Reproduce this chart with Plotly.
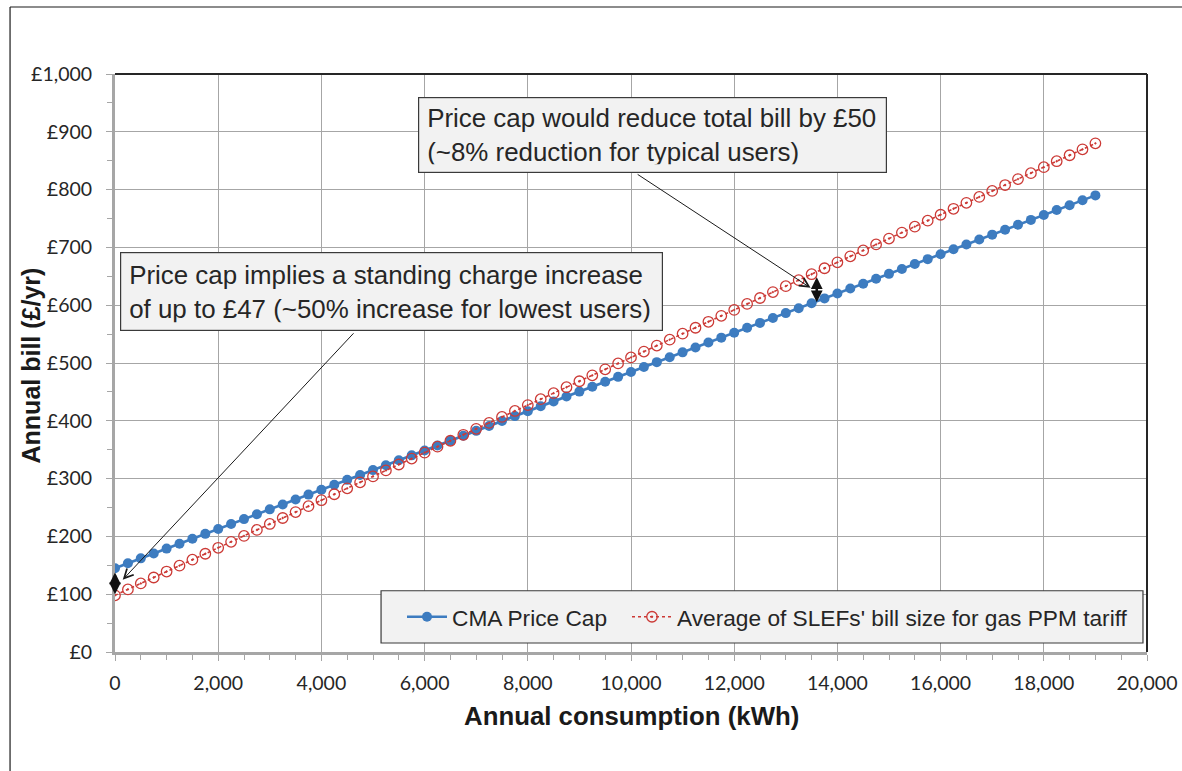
import plotly.graph_objects as go

# ---------------- data ----------------
consumption_kwh = [
    0, 250, 500, 750, 1000, 1250, 1500, 1750, 2000, 2250, 2500, 2750, 3000, 3250, 3500, 3750,
    4000, 4250, 4500, 4750, 5000, 5250, 5500, 5750, 6000, 6250, 6500, 6750, 7000, 7250, 7500, 7750,
    8000, 8250, 8500, 8750, 9000, 9250, 9500, 9750, 10000, 10250, 10500, 10750, 11000, 11250, 11500, 11750,
    12000, 12250, 12500, 12750, 13000, 13250, 13500, 13750, 14000, 14250, 14500, 14750, 15000, 15250, 15500, 15750,
    16000, 16250, 16500, 16750, 17000, 17250, 17500, 17750, 18000, 18250, 18500, 18750, 19000,
]

cma_price_cap = [
    145.0, 153.5, 162.0, 170.5, 178.9, 187.4, 195.9, 204.4, 212.9, 221.4, 229.9, 238.4, 246.8, 255.3, 263.8, 272.3,
    280.8, 289.3, 297.8, 306.3, 314.7, 323.2, 331.7, 340.2, 348.7, 357.2, 365.7, 374.1, 382.6, 391.1, 399.6, 408.1,
    416.6, 425.1, 433.6, 442.0, 450.5, 459.0, 467.5, 476.0, 484.5, 493.0, 501.5, 509.9, 518.4, 526.9, 535.4, 543.9,
    552.4, 560.9, 569.4, 577.8, 586.3, 594.8, 603.3, 611.8, 620.3, 628.8, 637.2, 645.7, 654.2, 662.7, 671.2, 679.7,
    688.2, 696.7, 705.1, 713.6, 722.1, 730.6, 739.1, 747.6, 756.1, 764.6, 773.0, 781.5, 790.0,
]

slef_avg_bill = [
    98.0, 108.3, 118.6, 128.9, 139.2, 149.4, 159.7, 170.0, 180.3, 190.6, 200.9, 211.2, 221.5, 231.8, 242.0, 252.3,
    262.6, 272.9, 283.2, 293.5, 303.8, 314.1, 324.4, 334.6, 344.9, 355.2, 365.5, 375.8, 386.1, 396.4, 406.7, 417.0,
    427.2, 437.5, 447.8, 458.1, 468.4, 478.7, 489.0, 499.3, 509.6, 519.8, 530.1, 540.4, 550.7, 561.0, 571.3, 581.6,
    591.9, 602.2, 612.5, 622.7, 633.0, 643.3, 653.6, 663.9, 674.2, 684.5, 694.8, 705.1, 715.3, 725.6, 735.9, 746.2,
    756.5, 766.8, 777.1, 787.4, 797.7, 807.9, 818.2, 828.5, 838.8, 849.1, 859.4, 869.7, 880.0,
]

series_names = ["CMA Price Cap", "Average of SLEFs' bill size for gas PPM tariff"]

x_title = "Annual consumption (kWh)"
y_title = "Annual bill (£/yr)"

callout_top = "Price cap would reduce total bill by £50<br>(~8% reduction for typical users)"
callout_left = "Price cap implies a standing charge increase<br>of up to £47 (~50% increase for lowest users)"

# ---------------- styles ----------------
BLUE = "#3d7cc0"
RED = "#cc3a36"
GRID = "#a6a6a6"
TEXT = "#262626"
BOXFILL = "#f2f2f2"
TICKFONT = dict(family="Lato, Carlito, Calibri, sans-serif", size=19.5, color=TEXT)
TITLEFONT = dict(family="Liberation Sans, Arial, sans-serif", size=25.8, color="#1a1a1a")
NOTEFONT = dict(family="Liberation Sans, Arial, sans-serif", size=25.9, color=TEXT)

fig = go.Figure()

fig.add_trace(go.Scatter(
    x=consumption_kwh, y=cma_price_cap, name=series_names[0],
    mode="lines+markers",
    line=dict(color=BLUE, width=2.6),
    marker=dict(color=BLUE, size=10, symbol="circle"),
    legendwidth=170,
))
fig.add_trace(go.Scatter(
    x=consumption_kwh, y=slef_avg_bill, name=series_names[1],
    mode="lines+markers",
    line=dict(color=RED, width=1.6, dash="dot"),
    marker=dict(color=RED, size=10.5, symbol="circle-open-dot", line=dict(color=RED, width=1.3)),
))

# ---------------- annotations ----------------
annotations = [
    # axis titles
    dict(x=0.5, y=-0.1107, xref="paper", yref="paper", xanchor="center", yanchor="middle",
         text="<b>" + x_title + "</b>", showarrow=False, font=TITLEFONT),
    dict(x=-0.0814, y=0.4957, xref="paper", yref="paper", xanchor="center", yanchor="middle",
         text="<b>" + y_title + "</b>", showarrow=False, font=dict(TITLEFONT, size=25), textangle=-90),
    # callout boxes
    dict(x=5870, y=960, xref="x", yref="y", xanchor="left", yanchor="top",
         text=callout_top, showarrow=False, align="left", font=NOTEFONT,
         bgcolor=BOXFILL, bordercolor="#3a3a3a", borderwidth=1.2, borderpad=8,
         width=451, height=58),
    dict(x=90, y=692, xref="x", yref="y", xanchor="left", yanchor="top",
         text=callout_left, showarrow=False, align="left", font=NOTEFONT,
         bgcolor=BOXFILL, bordercolor="#3a3a3a", borderwidth=1.2, borderpad=8,
         width=525, height=61),
    # leader arrows
    dict(x=13480, y=630, ax=10100, ay=828, xref="x", yref="y", axref="x", ayref="y",
         text="", showarrow=True, arrowhead=5, arrowsize=1.8, arrowwidth=1, arrowcolor="#1a1a1a"),
    dict(x=150, y=125, ax=4650, ay=554, xref="x", yref="y", axref="x", ayref="y",
         text="", showarrow=True, arrowhead=5, arrowsize=1.8, arrowwidth=1, arrowcolor="#1a1a1a"),
    # double-headed gap arrows
    dict(x=0, y=100, ax=0, ay=140, xref="x", yref="y", axref="x", ayref="y",
         text="", showarrow=True, arrowhead=2, startarrowhead=2, arrowside="end+start",
         arrowsize=0.9, startarrowsize=0.9, arrowwidth=2.6, arrowcolor="#111111"),
    dict(x=13600, y=605, ax=13600, ay=651, xref="x", yref="y", axref="x", ayref="y",
         text="", showarrow=True, arrowhead=2, startarrowhead=2, arrowside="end+start",
         arrowsize=0.9, startarrowsize=0.9, arrowwidth=2.6, arrowcolor="#111111"),
]

shapes = [
    # outer frame of the picture (top and left edges visible)
    dict(type="line", xref="paper", yref="paper", x0=-0.1017, y0=1.1159, x1=1.05, y1=1.1159,
         line=dict(color="#1a1a1a", width=1.2), layer="below"),
    dict(type="line", xref="paper", yref="paper", x0=-0.1017, y0=-0.25, x1=-0.1017, y1=1.1159,
         line=dict(color="#1a1a1a", width=1.2), layer="below"),
    # top and right plot border (dark)
    dict(type="line", xref="paper", yref="paper", x0=0, y0=1, x1=1, y1=1,
         line=dict(color="#262626", width=2), layer="above"),
    dict(type="line", xref="paper", yref="paper", x0=1, y0=0, x1=1, y1=1,
         line=dict(color="#262626", width=2), layer="above"),
    # legend box
    dict(type="rect", xref="paper", yref="paper", x0=0.2578, y0=0.0156, x1=0.9961, y1=0.106,
         line=dict(color="#3a3a3a", width=1.2), fillcolor=BOXFILL, layer="above"),
]

fig.update_layout(
    width=1182, height=771,
    margin=dict(l=115, r=35, t=74, b=119, autoexpand=False),
    paper_bgcolor="white", plot_bgcolor="white",
    showlegend=True,
    legend=dict(orientation="h", x=0.2781, y=0.0606, xanchor="left", yanchor="middle",
                bgcolor="rgba(0,0,0,0)", borderwidth=0,
                font=dict(family="Liberation Sans, Arial, sans-serif", size=22.7, color=TEXT),
                itemwidth=40, tracegroupgap=0),
    annotations=annotations,
    shapes=shapes,
    xaxis=dict(
        range=[0, 20000], dtick=2000, tick0=0, tickformat=",",
        showgrid=True, gridcolor=GRID, gridwidth=1.4,
        showline=True, linecolor=GRID, linewidth=3,
        ticks="outside", ticklen=6, tickcolor=GRID, tickwidth=1.3,
        minor=dict(dtick=500, ticks="outside", ticklen=5, tickcolor=GRID, showgrid=False),
        tickfont=TICKFONT, zeroline=False, ticklabelstandoff=6, automargin=False,
    ),
    yaxis=dict(
        range=[0, 1000], dtick=100, tick0=0, tickprefix="£", tickformat=",",
        showgrid=True, gridcolor=GRID, gridwidth=1.4,
        showline=True, linecolor=GRID, linewidth=3,
        ticks="outside", ticklen=6, tickcolor=GRID, tickwidth=1.3,
        minor=dict(dtick=50, ticks="outside", ticklen=5, tickcolor=GRID, showgrid=False),
        tickfont=TICKFONT, zeroline=False, ticklabelstandoff=10, automargin=False,
    ),
)

fig.write_html(
    "out.html",
    config={"displayModeBar": False},
    post_script="document.documentElement.style.margin='0';document.body.style.margin='0';"
                "document.body.style.overflow='hidden';",
)
